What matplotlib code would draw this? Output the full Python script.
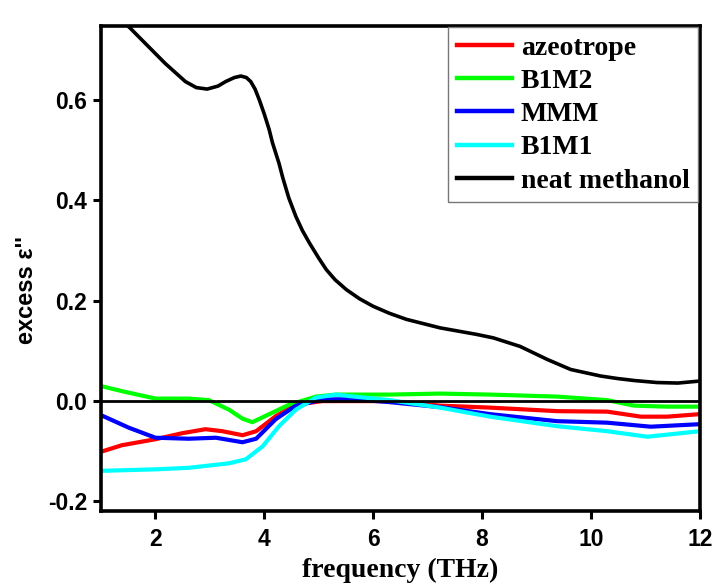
import matplotlib
matplotlib.use("Agg")
import matplotlib.pyplot as plt

# excess dielectric loss spectra
x_azeo = [1.0, 1.38, 2.0, 2.49, 2.92, 3.23, 3.6, 3.85, 4.21, 4.58, 5.07, 6.3, 7.23, 8.15, 9.38, 10.3, 10.92, 11.4, 12.0]
y_azeo = [-0.101, -0.088, -0.076, -0.064, -0.056, -0.060, -0.068, -0.060, -0.030, -0.007, 0.0, 0.0,
          -0.009, -0.013, -0.020, -0.021, -0.031, -0.031, -0.026]

x_b1m2 = [1.0, 1.38, 2.0, 2.61, 2.98, 3.35, 3.6, 3.78, 4.09, 4.46, 4.95, 5.32, 6.3, 7.23, 8.15, 9.38, 10.3, 10.79, 11.4, 12.0]
y_b1m2 = [0.030, 0.020, 0.005, 0.005, 0.002, -0.017, -0.035, -0.042, -0.026, -0.007, 0.009, 0.013,
          0.013, 0.015, 0.013, 0.009, 0.002, -0.009, -0.011, -0.011]

x_mmm = [1.0, 1.51, 2.0, 2.61, 3.11, 3.6, 3.85, 4.21, 4.58, 5.07, 5.56, 6.3, 7.23, 8.15, 9.38, 10.3, 11.1, 12.0]
y_mmm = [-0.028, -0.053, -0.073, -0.075, -0.073, -0.082, -0.075, -0.036, -0.009, 0.003, 0.004, -0.002,
         -0.012, -0.026, -0.040, -0.043, -0.051, -0.046]

x_b1m1 = [1.0, 2.0, 2.61, 3.35, 3.66, 3.97, 4.27, 4.58, 4.95, 5.32, 5.56, 6.3, 7.23, 8.15, 9.38, 10.3, 11.04, 12.0]
y_b1m1 = [-0.139, -0.136, -0.133, -0.124, -0.116, -0.090, -0.050, -0.017, 0.007, 0.013, 0.010, 0.002,
          -0.013, -0.031, -0.050, -0.060, -0.071, -0.060]

x_meoh = [1.0, 1.54, 2.18, 2.55, 2.75, 2.95, 3.15, 3.29, 3.45, 3.57, 3.67, 3.75, 3.83, 3.91, 4.0, 4.09,
          4.15, 4.27, 4.34, 4.45, 4.58, 4.7, 4.83, 5.0, 5.14, 5.3, 5.51, 5.75, 6.0, 6.3, 6.61, 7.23, 7.9,
          8.21, 8.7, 9.2, 9.63, 10.18, 10.49, 10.8, 11.22, 11.6, 12.0]
y_meoh = [0.80, 0.743, 0.673, 0.637, 0.625, 0.622, 0.628, 0.637, 0.645, 0.648, 0.645, 0.637, 0.622,
          0.600, 0.572, 0.541, 0.515, 0.474, 0.445, 0.405, 0.368, 0.340, 0.315, 0.285, 0.262, 0.242,
          0.222, 0.204, 0.189, 0.175, 0.163, 0.146, 0.133, 0.126, 0.109, 0.083, 0.063, 0.050, 0.045,
          0.041, 0.037, 0.036, 0.040]

xticks = [2, 4, 6, 8, 10, 12]
yticks = [-0.2, 0.0, 0.2, 0.4, 0.6]

fig = plt.figure(figsize=(7.14, 5.88), dpi=100)
ax = fig.add_axes([0.1415, 0.131, 0.8385, 0.825])

ax.plot(x_azeo, y_azeo, color="#ff0000", lw=3, label="azeotrope")
ax.plot(x_b1m2, y_b1m2, color="#00ff00", lw=3, label="B1M2")
ax.plot(x_mmm, y_mmm, color="#0000ff", lw=3, label="MMM")
ax.plot(x_b1m1, y_b1m1, color="#00ffff", lw=3, label="B1M1")
ax.plot(x_meoh, y_meoh, color="black", lw=2.6, label="neat methanol")
ax.axhline(0, color="black", lw=2, zorder=3)

ax.set_xlim(1, 12)
ax.set_ylim(-0.219, 0.748)
ax.set_xticks(xticks)
ax.set_yticks(yticks)
ax.set_xticklabels([str(t) for t in xticks])
ax.set_yticklabels(["%.1f" % t for t in yticks])

for s in ax.spines.values():
    s.set_linewidth(2.6)
ax.tick_params(direction="out", length=6, width=2.2)
ax.tick_params(axis="x", pad=6)
ax.tick_params(axis="y", pad=4)
for lab in ax.get_xticklabels() + ax.get_yticklabels():
    lab.set_fontfamily("Liberation Sans")
    lab.set_fontweight("bold")
    lab.set_fontsize(16.5)

ax.set_xlabel("frequency (THz)", family="Liberation Serif", weight="bold", fontsize=20, labelpad=5)
ax.set_ylabel("excess ε''", family="Liberation Sans", weight="bold", fontsize=17)
ax.yaxis.set_label_coords(-0.105, 0.456)

leg = ax.legend(loc="upper right", bbox_to_anchor=(0.997, 0.998), borderaxespad=0, fancybox=False,
                handlelength=2.0, handletextpad=0.3, labelspacing=0.28, borderpad=0.3, framealpha=1,
                prop={"family": "Liberation Serif", "weight": "bold", "size": 20})
leg.get_frame().set_edgecolor("#777777")
leg.get_frame().set_linewidth(1)
for line in leg.get_lines():
    line.set_linewidth(3.2)

plt.savefig("out.png", dpi=100)
